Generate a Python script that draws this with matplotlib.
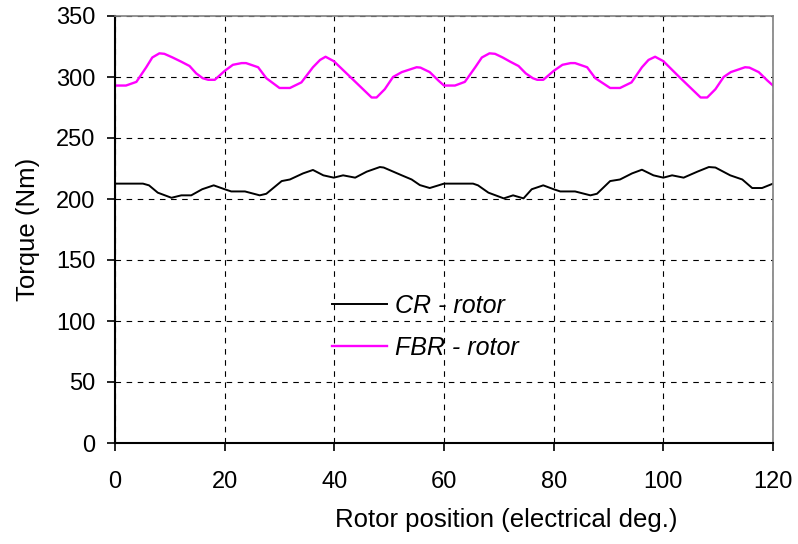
import matplotlib
matplotlib.use("Agg")
import matplotlib.pyplot as plt

plt.rcParams['font.family'] = ['Liberation Sans', 'DejaVu Sans']

# CR - rotor
cr_x = [0, 5.1, 6.2, 7.8, 10.3, 12.1, 13.9, 15.9, 18.0, 20.0, 21.2, 23.7, 26.4, 27.6,
        30.4, 31.9, 34.3, 36.1, 38.0, 39.9, 41.6, 43.8, 45.9, 48.3, 49.0, 52.3, 54.1,
        55.6, 57.4, 59.0,
        60.0, 65.3, 66.2, 68.1, 70.9, 72.6, 74.5, 76.0, 78.1, 80.0, 81.2, 83.9, 86.7,
        87.9, 90.3, 92.1, 94.3, 96.1, 98.2, 100.0, 101.6, 103.7, 106.2, 108.3, 109.5,
        112.2, 114.4, 116.2, 118.0, 120.0]
cr_y = [212.6, 212.6, 211.2, 205.2, 201.0, 203.0, 203.0, 208.0, 211.2, 208.0, 206.2,
        206.2, 203.0, 204.3, 214.7, 216.0, 221.0, 223.8, 219.4, 217.5, 219.4, 217.5,
        222.4, 226.2, 225.8, 219.4, 216.0, 211.4, 209.0, 211.2,
        212.6, 212.6, 211.2, 205.2, 200.5, 203.0, 200.5, 208.0, 211.2, 208.0, 206.2,
        206.2, 203.0, 204.3, 214.7, 216.0, 221.0, 224.0, 219.4, 217.5, 219.4, 217.5,
        222.4, 226.2, 225.8, 219.4, 216.0, 209.0, 209.0, 212.6]

# FBR - rotor
fbr_x = [0, 2.0, 3.9, 5.7, 6.8, 8.1, 9.0, 10.5, 12.1, 13.6, 14.8, 16.0, 17.0, 18.2,
         20.0, 21.5, 23.1, 23.9, 26.1, 27.6, 30.0, 31.9, 34.0, 36.1, 37.4, 38.4, 39.9,
         42.8, 46.8, 47.7, 49.2, 50.7, 52.3, 55.0, 55.7, 57.4, 59.0,
         60.0, 62.0, 63.8, 65.7, 66.9, 68.3, 69.3, 70.7, 72.1, 73.6, 74.9, 76.2, 77.0,
         78.1, 80.0, 81.6, 83.1, 83.9, 86.1, 87.6, 90.3, 92.1, 94.2, 96.1, 97.3, 98.5,
         100.0, 102.8, 106.8, 108.0, 109.5, 111.0, 112.3, 114.9, 115.7, 117.4, 119.0, 120.0]
fbr_y = [293, 293, 296, 308, 316, 319.4, 319, 316, 312.5, 309, 303, 299, 297.7, 297.7,
         305, 310, 311.4, 311.4, 308, 299, 291, 291, 295.6, 308, 314, 316.6, 313,
         300.5, 283.2, 283.2, 290, 300, 304, 308, 307.7, 304, 297,
         293, 293, 296, 308, 316, 319.4, 319, 316, 312.5, 309, 303, 299, 297.7,
         297.7, 305, 310, 311.4, 311.4, 308, 299, 291, 291, 295.6, 308, 314, 316.6,
         313, 300.5, 283.2, 283.2, 290, 300, 304, 308, 307.7, 304, 297, 293]

x_ticks = [0, 20, 40, 60, 80, 100, 120]
y_ticks = [0, 50, 100, 150, 200, 250, 300, 350]

fig = plt.figure(figsize=(7.98, 5.44), dpi=100)
ax = fig.add_axes([115 / 798, 1 - 443 / 544, (773 - 115) / 798, (443 - 16) / 544])

ax.plot(cr_x, cr_y, color='black', lw=1.4, label='CR - rotor')
ax.plot(fbr_x, fbr_y, color='#ff00ff', lw=1.7, label='FBR - rotor')

ax.set_xlim(0, 120)
ax.set_ylim(0, 350)
ax.set_xticks(x_ticks)
ax.set_yticks(y_ticks)
ax.tick_params(labelsize=17, length=6, width=1.2, direction='out')
ax.tick_params(axis='x', pad=14)
ax.tick_params(axis='y', pad=8)
ax.grid(True, color='black', linestyle=(0, (5, 5)), linewidth=0.8)
ax.set_axisbelow(True)

for s in ['top', 'right']:
    ax.spines[s].set_color('#808080')
    ax.spines[s].set_linewidth(1.2)
for s in ['left', 'bottom']:
    ax.spines[s].set_color('black')
    ax.spines[s].set_linewidth(1.5)

ax.set_xlabel('Rotor position (electrical deg.)', fontsize=18.5)
ax.xaxis.set_label_coords((506 - 115) / 658, -(520 - 443) / 427)
ax.xaxis.label.set_va('center')
ax.set_ylabel('Torque (Nm)', fontsize=18.5, labelpad=12)

leg = ax.legend(loc='upper left', bbox_to_anchor=(332 / 798, 1 - 294 / 544),
                bbox_transform=fig.transFigure, frameon=False, fontsize=18,
                handlelength=2.2, handletextpad=0.32, labelspacing=0.72,
                borderpad=0, borderaxespad=0)
for t in leg.get_texts():
    t.set_fontstyle('italic')

fig.savefig('out.png', dpi=100)
